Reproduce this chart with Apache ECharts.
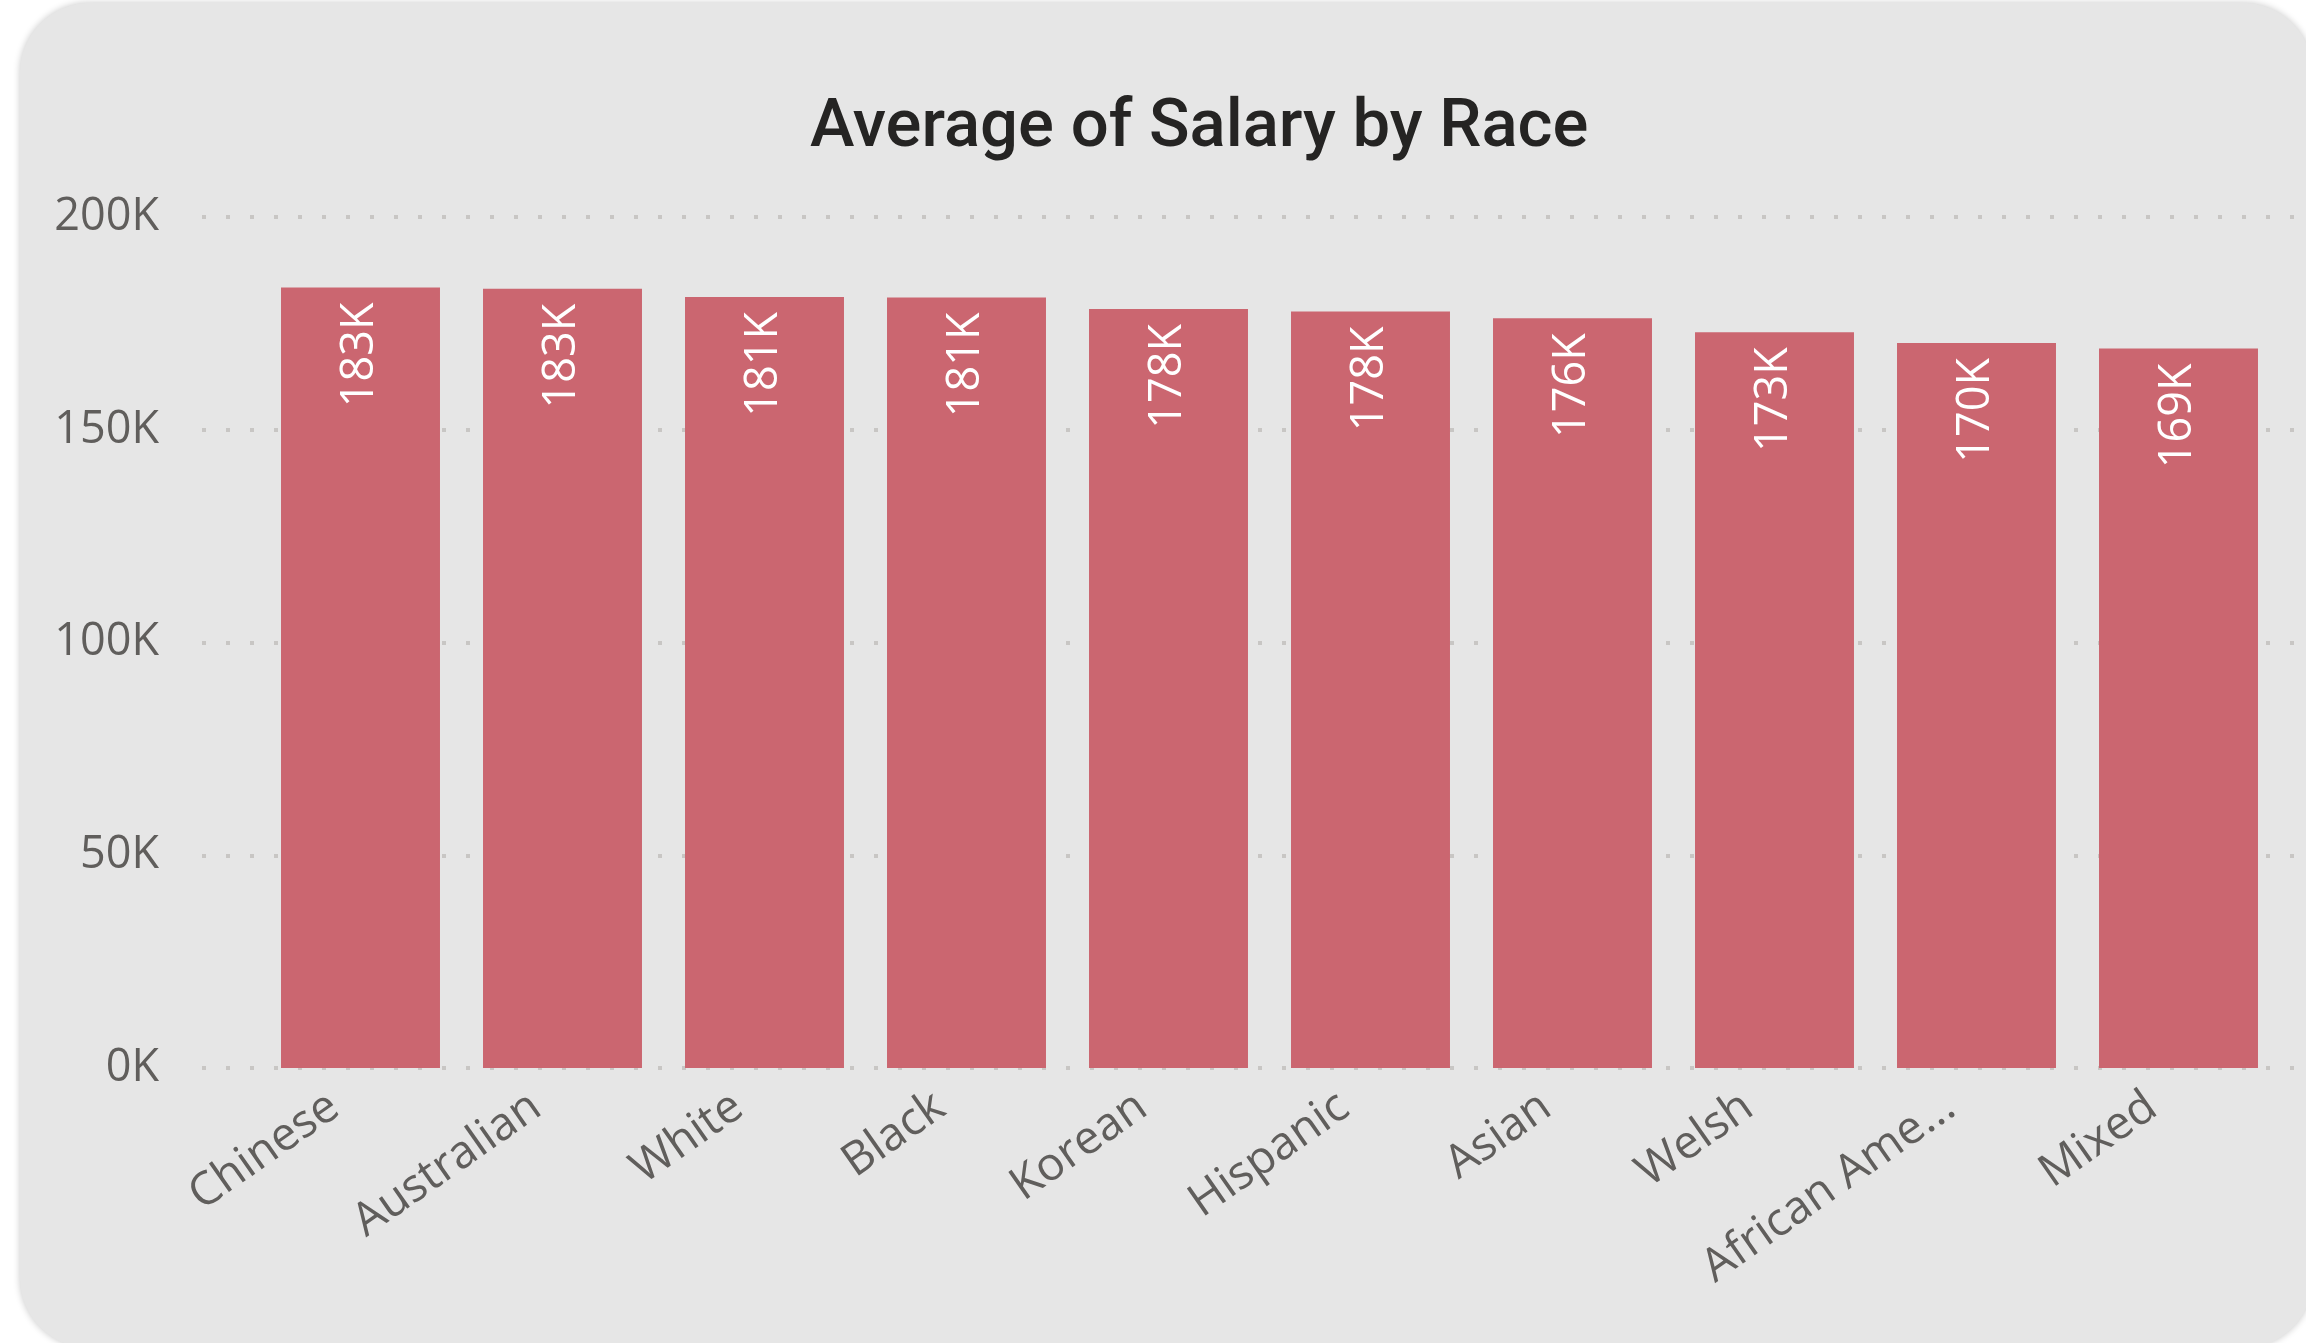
<!DOCTYPE html>
<html>
<head>
<meta charset="utf-8">
<title>Average of Salary by Race</title>
<script src="https://cdn.jsdelivr.net/npm/echarts@6/dist/echarts.min.js"></script>
<style>
    html, body { margin: 0; padding: 0; background: #ffffff; overflow: hidden; }
    .card {
        position: absolute; left: 20px; top: 3px; width: 2293px; height: 1345px;
        background: #e6e6e6; border-radius: 70px;
        box-shadow: 0 0 7px rgba(0, 0, 0, 0.22);
    }
    .chart { position: absolute; left: 0; top: 0; width: 2306px; height: 1343px; }
</style>
</head>
<body>
<div class="card"></div>
<div class="chart"></div>
<script>
// 数据
var races = ['Chinese', 'Australian', 'White', 'Black', 'Korean', 'Hispanic', 'Asian', 'Welsh', 'African American', 'Mixed'];
var avgSalary = [183450, 183150, 181200, 181100, 178400, 177800, 176200, 172900, 170400, 169100];
var yTickLabels = ['0K', '50K', '100K', '150K', '200K'];

{
    var myChart = echarts.init(document.querySelector('.chart'));
    var labelFont = 'Open Sans';
    var option = {
        color: ['#CB6670'],
        title: {
            text: 'Average of Salary by Race',
            left: 810,
            top: 96,
            padding: 0,
            textStyle: {
                fontFamily: 'Roboto',
                fontSize: 67,
                fontWeight: 500,
                color: '#252423'
            }
        },
        grid: [
            // 柱子所在的网格
            { left: 259.5, right: 26.5, top: 217, bottom: 275 },
            // 只画虚线和 y 轴文字
            { left: 200, right: 0, top: 217, bottom: 275 }
        ],
        xAxis: [
            {
                type: 'category',
                gridIndex: 0,
                data: races,
                axisLine: { show: false },
                axisTick: { show: false },
                axisLabel: {
                    interval: 0,
                    rotate: 35,
                    margin: 16,
                    padding: [0, 32, 0, 0],
                    color: '#605E5C',
                    fontFamily: labelFont,
                    fontSize: 46,
                    formatter: function (v) {
                        return v.length > 12 ? v.slice(0, 11) + '...' : v;
                    }
                }
            },
            { type: 'value', gridIndex: 1, min: 0, max: 1, show: false }
        ],
        yAxis: [
            { type: 'value', gridIndex: 0, min: 0, max: 200000, interval: 50000, show: false },
            {
                type: 'value',
                gridIndex: 1,
                min: 0,
                max: 200000,
                interval: 50000,
                axisLine: { show: false },
                axisTick: { show: false },
                axisLabel: {
                    margin: 41,
                    color: '#605E5C',
                    fontFamily: labelFont,
                    fontSize: 45,
                    formatter: function (v, i) { return yTickLabels[i]; }
                },
                splitLine: {
                    show: true,
                    lineStyle: { color: '#C8C6C4', width: 4, type: [4, 20], dashOffset: -2 }
                }
            }
        ],
        series: [
            {
                name: 'Average of Salary',
                type: 'bar',
                xAxisIndex: 0,
                yAxisIndex: 0,
                barCategoryGap: '21.3%',
                data: avgSalary,
                label: {
                    show: true,
                    position: 'insideTop',
                    rotate: 90,
                    align: 'right',
                    verticalAlign: 'middle',
                    distance: 15,
                    color: '#ffffff',
                    fontFamily: labelFont,
                    fontSize: 45,
                    formatter: function (p) { return Math.round(p.value / 1000) + 'K'; }
                }
            }
        ]
    };
    myChart.setOption(option);
    window.addEventListener('resize', function () {
        myChart.resize();
    });
}
</script>
</body>
</html>
